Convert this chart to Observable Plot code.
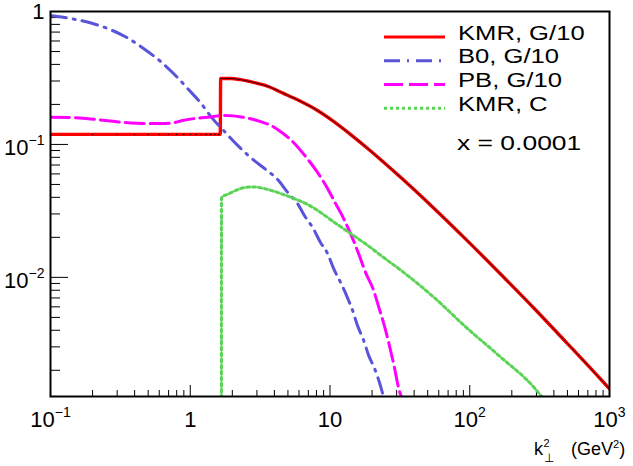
<!DOCTYPE html>
<html>
<head>
<meta charset="utf-8">
<script src="https://cdn.jsdelivr.net/npm/d3@7"></script>
<script src="https://cdn.jsdelivr.net/npm/@observablehq/plot@0.6"></script>
<style>
  html, body { margin: 0; padding: 0; background: #fff; }
  #chart { width: 633px; height: 466px; }
</style>
</head>
<body>
<div id="chart"></div>
<script>
// Unintegrated gluon densities versus k_perp^2 at x = 1e-4 (log-log)
const FONT = "'Liberation Sans', Arial, Helvetica, sans-serif";

const seriesNames  = ["KMR, G/10", "B0, G/10", "PB, G/10", "KMR, C"];
const seriesColors = ["#ff0000", "#5954d9", "#ff00ff", "#59d454"];
const seriesDash   = [null, "16,7,2,7", "19,6", "3,3"];
const annotation   = "x = 0.0001";

// [k_perp^2 (GeV^2), density]
const kmrG = [[0.1,0.119],[1.64,0.119],[1.65,0.313],[1.76,0.313],[1.94,0.313],[2.29,0.307],[2.84,0.2925],
  [3.57,0.274],[4.65,0.242],[6.15,0.211],[8.14,0.180],[10.6,0.149],[14.0,0.119],[18.6,0.0932],[24.2,0.0735],
  [32.0,0.0566],[55.1,0.0333],[95.9,0.0189],[166,0.0106],[286,0.00591],[498,0.00319],[862,0.00172],[1000,0.00145]];

// sampling points of the KMR gluon in the flat low-k region
const kmrMarkersX = [0.2,0.3,0.4,0.5,0.6,0.7,0.8,0.9,1.0,1.1,1.2,1.3,1.4,1.5,1.6];

const b0G = [[0.1,0.933],[0.2,0.812],[0.256,0.745],[0.361,0.627],[0.463,0.527],[0.613,0.421],[0.759,0.342],
  [0.972,0.259],[1.18,0.207],[1.44,0.157],[1.76,0.125],[2.22,0.0966],[2.70,0.0798],[3.46,0.0649],[4.21,0.0546],
  [5.05,0.0428],[5.85,0.036],[6.68,0.0283],[7.50,0.0238],[8.55,0.0183],[9.60,0.01515],[10.6,0.01168],
  [11.9,0.00917],[13.3,0.00707],[14.5,0.00565],[15.7,0.00436],[17.4,0.00336],[18.9,0.00259],[20.8,0.00207],
  [23.0,0.00152],[24.2,0.00125]];

const pbG = [[0.1,0.160],[0.139,0.1596],[0.193,0.1555],[0.269,0.150],[0.374,0.145],[0.52,0.1438],[0.665,0.1438],
  [0.746,0.145],[0.88,0.1515],[1.09,0.157],[1.40,0.161],[1.70,0.165],[2.04,0.164],[2.40,0.160],[2.84,0.154],
  [3.34,0.146],[3.88,0.137],[4.42,0.125],[5.48,0.1035],[6.68,0.0813],[8.14,0.0616],[9.60,0.0467],[10.95,0.036],
  [12.5,0.0278],[14.0,0.0214],[16.0,0.01515],[17.95,0.0109],[20.5,0.0080],[22.2,0.0061],[25.0,0.0040],
  [27.1,0.00283],[28.9,0.0021],[30.9,0.00149],[32.5,0.00125]];

const kmrC = [[1.672,0.001],[1.673,0.0393],[1.70,0.0406],[1.85,0.0421],[2.04,0.0443],[2.49,0.0475],[2.84,0.0479],
  [3.57,0.0459],[4.42,0.0428],[5.48,0.0393],[6.90,0.0354],[8.14,0.0319],[10.6,0.0262],[14.0,0.0214],
  [18.6,0.0174],[24.2,0.0141],[32.9,0.0111],[55.1,0.00711],[95.9,0.00414],[166,0.00252],[286,0.0015],[337,0.00122]];

const xMajor = [0.1, 1, 10, 100, 1000];
const xTickLabels = ["10^-1", "1", "10", "10^2", "10^3"];
const yMajor = [1, 0.1, 0.01];
const yTickLabels = ["1", "10^-1", "10^-2"];
const xDomain = [0.1, 1000];
const yDomain = [0.00127, 1];

// minor ticks: 2..9 within every decade of the domain
function minorTicks([lo, hi]) {
  const out = [];
  for (let e = Math.floor(Math.log10(lo)); e < Math.ceil(Math.log10(hi)); e++)
    for (let m = 2; m <= 9; m++) {
      const v = m * Math.pow(10, e);
      if (v > lo && v < hi) out.push(v);
    }
  return out;
}
const xMinor = minorTicks(xDomain);
const yMinor = minorTicks(yDomain);

const W = 633, H = 466, mL = 50, mR = 24, mT = 11, mB = 70;
const innerW = W - mL - mR, innerH = H - mT - mB;

const lineOpts = (i) => ({x: d => d[0], y: d => d[1], stroke: seriesColors[i], strokeWidth: 3,
  strokeDasharray: seriesDash[i] || undefined, curve: "monotone-x", clip: true});

const chart = Plot.plot({
  width: W, height: H,
  marginLeft: mL, marginRight: mR, marginTop: mT, marginBottom: mB,
  style: {fontFamily: FONT, fontSize: "22px", background: "white", color: "black", overflow: "visible"},
  x: {type: "log", domain: xDomain},
  y: {type: "log", domain: yDomain},
  marks: [
    // inward ticks on the bottom and left axes
    Plot.ruleX(xMinor, {stroke: "black", insetTop: innerH - 6}),
    Plot.ruleX(xMajor.slice(1, -1), {stroke: "black", insetTop: innerH - 11}),
    Plot.ruleY(yMinor, {stroke: "black", insetRight: innerW - 10}),
    Plot.ruleY(yMajor, {stroke: "black", insetRight: innerW - 18}),

    Plot.line(kmrG, {...lineOpts(0), strokeWidth: 3.4}),
    Plot.line(b0G, lineOpts(1)),
    Plot.line(pbG, lineOpts(2)),
    Plot.line(kmrC, lineOpts(3)),
    // thin black trace over the KMR gluon
    Plot.line(kmrG.filter(d => d[0] >= 1.65), {x: d => d[0], y: d => d[1], stroke: "black",
      strokeWidth: 0.8, curve: "monotone-x", clip: true}),
    Plot.dot(kmrMarkersX, {x: d => d, y: () => kmrG[0][1], r: 0.7, fill: "black", stroke: null}),

    Plot.frame({stroke: "black", strokeWidth: 2}),
    Plot.axisX(xMajor, {tickSize: 0, tickPadding: 15, fontSize: 22, label: null,
      tickFormat: d => xTickLabels[xMajor.indexOf(d)]}),
    Plot.axisY(yMajor.slice(1), {tickSize: 0, tickPadding: 6, dy: 4, fontSize: 22, label: null,
      tickFormat: d => yTickLabels[yMajor.indexOf(d)]}),
    Plot.axisY(yMajor.slice(0, 1), {tickSize: 0, tickPadding: 6, dy: 0, fontSize: 22, label: null,
      tickFormat: d => yTickLabels[yMajor.indexOf(d)]})
  ]
});

document.getElementById("chart").appendChild(chart);
const svg = d3.select(chart);

// render "a^b" tick labels with a raised exponent
svg.selectAll("text").each(function () {
  const t = this.textContent;
  if (!t.includes("^")) return;
  const [base, exp] = t.split("^");
  const sel = d3.select(this);
  sel.text(null);
  sel.append("tspan").text(base);
  sel.append("tspan").attr("dy", -10).attr("font-size", 14).text(exp.replace("-", "\u2212"));
});

// legend inside the frame, top right
const leg = svg.append("g").attr("font-family", FONT).attr("font-size", 21)
  .attr("fill", "black").attr("text-anchor", "start");
seriesNames.forEach((name, i) => {
  const base = 39.5 + i * 23.7;
  leg.append("line")
    .attr("x1", 384).attr("x2", 445).attr("y1", base - 2.4).attr("y2", base - 2.4)
    .attr("stroke", seriesColors[i]).attr("stroke-width", 3)
    .attr("stroke-dasharray", seriesDash[i]);
  leg.append("text").attr("transform", `translate(458,${base}) scale(1.22,1)`).text(name);
});
leg.append("text").attr("transform", "translate(457,150) scale(1.26,1)").text(annotation);

// axis title: k_perp^2 (GeV^2), one text element with stacked indices
const title = svg.append("text").attr("font-family", FONT).attr("fill", "black")
  .attr("text-anchor", "start").attr("font-size", 18).attr("x", 534).attr("y", 455);
title.append("tspan").text("k");
title.append("tspan").attr("font-size", 11).attr("x", 543.5).attr("y", 447).text("2");
title.append("tspan").attr("font-size", 12).attr("x", 543.5).attr("y", 462).text("\u22A5");
title.append("tspan").attr("x", 571).attr("y", 455).text("(GeV");
title.append("tspan").attr("font-size", 11).attr("dy", -7).text("2");
title.append("tspan").attr("dy", 7).text(")");
</script>
</body>
</html>
